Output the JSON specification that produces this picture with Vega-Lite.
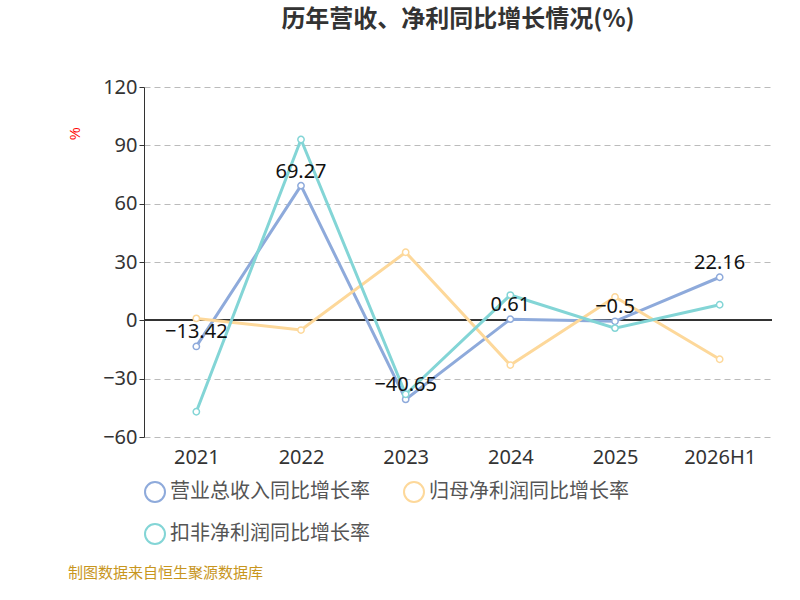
{
  "$schema": "https://vega.github.io/schema/vega-lite/v6.json",
  "padding": {"left": 68, "right": 20, "top": 8, "bottom": 5},
  "background": "white",
  "title": {"text": "制图数据来自恒生聚源数据库", "orient": "bottom", "fontSize": 15, "fontWeight": "normal", "color": "#c8961e", "font": "Noto Sans CJK SC", "offset": 18},
  "vconcat": [{
    "width": 628,
    "height": 350,
    "title": {"text": "历年营收、净利同比增长情况(%)", "fontSize": 24, "fontWeight": "bold", "color": "#333", "font": "Noto Sans CJK SC", "offset": 45},
    "data": {"values": [
      {"year": "2021", "s": "营业总收入同比增长率", "v": -13.42},
      {"year": "2022", "s": "营业总收入同比增长率", "v": 69.27},
      {"year": "2023", "s": "营业总收入同比增长率", "v": -40.65},
      {"year": "2024", "s": "营业总收入同比增长率", "v": 0.61},
      {"year": "2025", "s": "营业总收入同比增长率", "v": -0.5},
      {"year": "2026H1", "s": "营业总收入同比增长率", "v": 22.16},
      {"year": "2021", "s": "归母净利润同比增长率", "v": 1},
      {"year": "2022", "s": "归母净利润同比增长率", "v": -5},
      {"year": "2023", "s": "归母净利润同比增长率", "v": 35},
      {"year": "2024", "s": "归母净利润同比增长率", "v": -23},
      {"year": "2025", "s": "归母净利润同比增长率", "v": 12},
      {"year": "2026H1", "s": "归母净利润同比增长率", "v": -20},
      {"year": "2021", "s": "扣非净利润同比增长率", "v": -47},
      {"year": "2022", "s": "扣非净利润同比增长率", "v": 93},
      {"year": "2023", "s": "扣非净利润同比增长率", "v": -38},
      {"year": "2024", "s": "扣非净利润同比增长率", "v": 13},
      {"year": "2025", "s": "扣非净利润同比增长率", "v": -4},
      {"year": "2026H1", "s": "扣非净利润同比增长率", "v": 8}
    ]},
    "encoding": {
      "x": {"field": "year", "type": "nominal", "sort": null, "title": null,
        "axis": {"labelAngle": 0, "labelFontSize": 20, "labelColor": "#333", "domain": false, "ticks": false, "labelPadding": 10, "labelFont": "Noto Sans"}},
      "y": {"field": "v", "type": "quantitative", "title": "%",
        "scale": {"domain": [-60, 120]},
        "axis": {"values": [-60, -30, 0, 30, 60, 90, 120], "labelFontSize": 20, "labelColor": "#333", "titleColor": "red", "titleFontSize": 14, "titleFontWeight": "normal", "titleAngle": -90, "titleAlign": "right", "titleY": 40, "titleX": -62, "gridDash": [6, 4], "gridColor": "#bbb", "domainColor": "#333", "tickColor": "#333", "labelFont": "Noto Sans"}}
    },
    "layer": [
      {"mark": {"type": "rule", "color": "#333"}, "encoding": {"x": null, "y": {"datum": 0}}},
      {"mark": {"type": "line", "strokeWidth": 3, "point": {"filled": false, "fill": "white", "size": 40, "strokeWidth": 1.5}},
        "encoding": {
          "color": {"field": "s", "type": "nominal", "sort": ["营业总收入同比增长率", "归母净利润同比增长率", "扣非净利润同比增长率"],
            "scale": {"range": ["#8eaadb", "#fdd89a", "#83d5d6"]},
            "legend": {"orient": "bottom", "title": null, "columns": 2, "labelFontSize": 20, "labelLimit": 0, "labelColor": "#555", "symbolType": "circle", "symbolSize": 400, "symbolStrokeWidth": 2, "symbolFillColor": "white", "columnPadding": 30, "rowPadding": 14, "offset": 14, "labelFont": "Noto Sans CJK SC"}}
        }},
      {"transform": [{"filter": "datum.s == '营业总收入同比增长率'"}],
        "mark": {"type": "text", "fontSize": 20, "color": "#111", "dy": -4, "baseline": "bottom", "font": "Noto Sans"},
        "encoding": {"text": {"field": "v", "type": "quantitative"},
          "yOffset": {"condition": {"test": "datum.v < 0", "value": 40}, "value": 0}}}
    ]
  }],
  "config": {"view": {"stroke": null}}
}
